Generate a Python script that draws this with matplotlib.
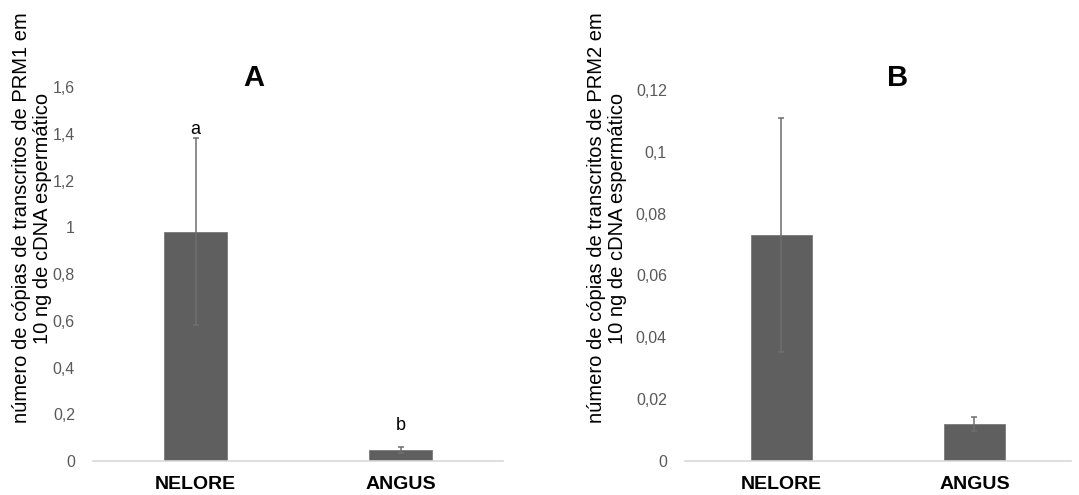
import matplotlib
matplotlib.use("Agg")
import matplotlib.pyplot as plt

plt.rcParams['font.family'] = ['Liberation Sans', 'DejaVu Sans']

categories = ['NELORE', 'ANGUS']

# painel A - PRM1
prm1_mean = [0.98, 0.047]
prm1_err = [0.40, 0.012]
prm1_letters = ['a', 'b']
prm1_letter_y = [1.42, 0.15]
prm1_ticks = [0, 0.2, 0.4, 0.6, 0.8, 1.0, 1.2, 1.4, 1.6]
prm1_ticklabels = ['0', '0,2', '0,4', '0,6', '0,8', '1', '1,2', '1,4', '1,6']

# painel B - PRM2
prm2_mean = [0.0731, 0.012]
prm2_err = [0.038, 0.0022]
prm2_ticks = [0, 0.02, 0.04, 0.06, 0.08, 0.10, 0.12]
prm2_ticklabels = ['0', '0,02', '0,04', '0,06', '0,08', '0,1', '0,12']

bar_color = '#5f5f5f'
err_color = '#6e6e6e'
tick_color = '#595959'


def draw_panel(ax, means, errs, ticks, ticklabels, width):
    x = range(len(categories))
    ax.bar(x, means, width=width, color=bar_color, edgecolor='#7a7a7a', linewidth=0.6, zorder=2)
    ax.errorbar(x, means, yerr=errs, fmt='none', ecolor=err_color, elinewidth=1.1,
                capsize=2.5, capthick=1.1, zorder=3)
    ax.set_xlim(-0.5, len(categories) - 0.5)
    ax.set_ylim(0, ticks[-1])
    ax.set_yticks(ticks)
    ax.set_yticklabels(ticklabels, color=tick_color, fontsize=11.5)
    ax.set_xticks(list(x))
    ax.set_xticklabels(categories, fontweight='bold', fontsize=14, color='black')
    ax.tick_params(axis='y', length=0, pad=13)
    ax.tick_params(axis='x', length=0, pad=11)
    for s in ['top', 'right', 'left']:
        ax.spines[s].set_visible(False)
    ax.spines['bottom'].set_color('#d9d9d9')
    ax.spines['bottom'].set_linewidth(1.2)


fig = plt.figure(figsize=(10.79, 4.95), dpi=100)

ax1 = fig.add_axes([0.0862, 0.0687, 0.380, 0.7555])
draw_panel(ax1, prm1_mean, prm1_err, prm1_ticks, prm1_ticklabels, 0.31)
for i, lt in enumerate(prm1_letters):
    ax1.text(i, prm1_letter_y[i], lt, ha='center', va='center', fontsize=13)

ax2 = fig.add_axes([0.6348, 0.0687, 0.3577, 0.7495])
draw_panel(ax2, prm2_mean, prm2_err, prm2_ticks, prm2_ticklabels, 0.32)

fig.text(254 / 1079, 1 - 78 / 495, 'A', ha='center', va='center', fontsize=21, fontweight='bold')
fig.text(898 / 1079, 1 - 78 / 495, 'B', ha='center', va='center', fontsize=21, fontweight='bold')

fig.text(32 / 1079, 1 - 218 / 495,
         'número de cópias de transcritos de PRM1 em\n10 ng de cDNA espermático',
         rotation=90, ha='center', va='center', multialignment='center', fontsize=14.5,
         linespacing=1.1)
fig.text(607 / 1079, 1 - 218 / 495,
         'número de cópias de transcritos de PRM2 em\n10 ng de cDNA espermático',
         rotation=90, ha='center', va='center', multialignment='center', fontsize=14.5,
         linespacing=1.1)

fig.savefig('out.png', dpi=100, facecolor='white')
